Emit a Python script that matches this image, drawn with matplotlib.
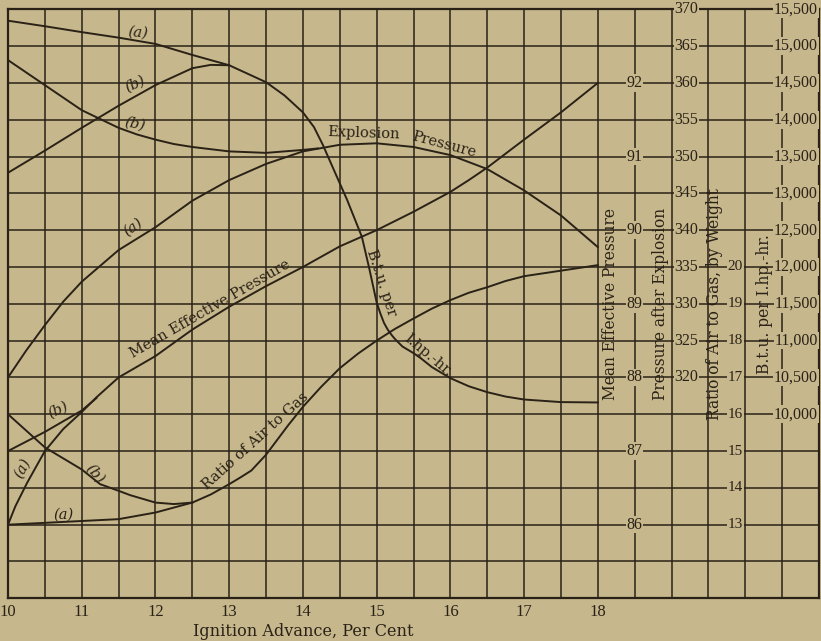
import numpy as np
import matplotlib.pyplot as plt

# ignition advance (per cent) and the readings of each curve
x_ticks = [10, 11, 12, 13, 14, 15, 16, 17, 18]
x_tick_labels = ['10', '11', '12', '13', '14', '15', '16', '17', '18']

# B.t.u. per I.hp.-hr.
btu_a_x = [10, 10.5, 11, 11.5, 12, 12.5, 13, 13.5, 13.75, 14, 14.15, 14.27, 14.45, 14.6, 14.8,
           14.9, 15.0, 15.05, 15.1, 15.15, 15.2, 15.25, 15.35, 15.4, 15.5, 15.6, 15.75, 16,
           16.25, 16.5, 16.75, 17, 17.5, 18]
btu_a = [15345, 15270, 15190, 15115, 15030, 14880, 14740, 14510, 14330, 14100, 13900, 13660,
         13250, 12910, 12410, 11980, 11520, 11370, 11240, 11150, 11080, 11020, 10920, 10890,
         10830, 10760, 10640, 10490, 10380, 10300, 10240, 10200, 10165, 10160]
btu_b_x = [10, 10.5, 11, 11.5, 12, 12.5, 12.75, 13.0]
btu_b = [13280, 13580, 13890, 14190, 14470, 14700, 14745, 14740]

# Pressure after explosion
exp_a_x = [10, 10.25, 10.5, 10.75, 11, 11.5, 12, 12.5, 13, 13.5, 14, 14.5, 15, 15.5, 16, 16.5,
           17, 17.5, 18]
exp_a = [320.0, 323.7, 327.1, 330.3, 333.0, 337.3, 340.4, 344.0, 346.8, 349.0, 350.7, 351.6,
         351.8, 351.3, 350.2, 348.3, 345.4, 342.0, 337.7]
exp_b_x = [10, 10.25, 10.5, 11, 11.5, 11.75, 12, 12.25, 12.5, 13, 13.5, 14, 14.2]
exp_b = [363.1, 361.4, 359.7, 356.3, 353.9, 353.0, 352.3, 351.7, 351.3, 350.7, 350.5, 350.9,
         351.1]

# Mean effective pressure
mep_a_x = [10, 10.1, 10.26, 10.5, 10.75, 11, 11.2, 11.5, 12, 12.5, 13, 13.5, 14, 14.5, 15, 15.5,
           16, 16.25, 16.5, 17, 17.5, 18]
mep_a = [86.0, 86.25, 86.57, 87.0, 87.3, 87.53, 87.73, 88.0, 88.29, 88.65, 88.96, 89.24, 89.5,
         89.78, 90.0, 90.25, 90.52, 90.68, 90.85, 91.23, 91.6, 92.0]
mep_b_x = [10, 10.5, 11, 11.2]
mep_b = [87.0, 87.26, 87.55, 87.72]

# Ratio of air to gas
ratio_a_x = [10, 10.5, 11, 11.5, 12, 12.5, 12.75, 13, 13.15, 13.3, 13.5, 13.8, 14, 14.25, 14.5,
             14.75, 15, 15.25, 15.5, 15.75, 16, 16.25, 16.5, 16.75, 17, 17.5, 18]
ratio_a = [13.0, 13.05, 13.1, 13.15, 13.33, 13.6, 13.82, 14.1, 14.28, 14.47, 14.9, 15.7, 16.2,
           16.75, 17.25, 17.65, 18.0, 18.32, 18.6, 18.87, 19.1, 19.3, 19.45, 19.62, 19.75, 19.9,
           20.05]
ratio_b_x = [10, 10.5, 11, 11.25, 11.5, 11.66, 12, 12.25, 12.5]
ratio_b = [16.0, 15.1, 14.5, 14.1, 13.92, 13.8, 13.6, 13.56, 13.6]

# right hand scales
mep_ticks = [86, 87, 88, 89, 90, 91, 92]
exp_ticks = [320, 325, 330, 335, 340, 345, 350, 355, 360, 365, 370]
ratio_ticks = [13, 14, 15, 16, 17, 18, 19, 20]
btu_ticks = [10000, 10500, 11000, 11500, 12000, 12500, 13000, 13500, 14000, 14500, 15000, 15500]

bg = '#c6b78c'
ink = '#2a2217'
serif = 'DejaVu Serif'
nums = 'Liberation Serif'

fig = plt.figure(figsize=(8.21, 6.41), dpi=100, facecolor=bg)
ax = fig.add_axes([8 / 821, 1 - 598.3 / 641, 811 / 821, 589 / 641])
ax.set_facecolor(bg)
ax.set_xlim(10, 21)
ax.set_ylim(85, 93)
ax.set_xticks(np.arange(10, 21.01, 0.5), minor=True)
ax.set_xticks(x_ticks)
ax.set_xticklabels(x_tick_labels, fontfamily=nums, fontsize=12, color=ink)
ax.set_yticks(np.arange(85, 93.01, 0.5), minor=True)
ax.set_yticks([])
ax.tick_params(which='both', length=0, pad=4)
ax.grid(which='both', color=ink, lw=1.1)
ax.set_axisbelow(True)
for s in ax.spines.values():
    s.set_color(ink)
    s.set_linewidth(1.6)

ax_p = ax.twinx()
ax_p.set_ylim(290, 370)
ax_r = ax.twinx()
ax_r.set_ylim(11, 27)
ax_b = ax.twinx()
ax_b.set_ylim(7500, 15500)
for a in (ax_p, ax_r, ax_b):
    a.axis('off')

lw = 1.4
ax_b.plot(btu_a_x, btu_a, color=ink, lw=lw)
ax_b.plot(btu_b_x, btu_b, color=ink, lw=lw)
ax_p.plot(exp_a_x, exp_a, color=ink, lw=lw)
ax_p.plot(exp_b_x, exp_b, color=ink, lw=lw)
ax.plot(mep_a_x, mep_a, color=ink, lw=lw)
ax.plot(mep_b_x, mep_b, color=ink, lw=lw)
ax_r.plot(ratio_a_x, ratio_a, color=ink, lw=lw)
ax_r.plot(ratio_b_x, ratio_b, color=ink, lw=lw)

# scale figures on the right
box = dict(fc=bg, ec='none', pad=0.6)
for v in mep_ticks:
    ax.text(18.5, v, str(v), ha='center', va='center', fontfamily=nums, fontsize=11.5,
            color=ink, bbox=box)
for v in exp_ticks:
    ax_p.text(19.04, v, str(v), ha='left', va='center', fontfamily=nums, fontsize=11.5,
              color=ink, bbox=box)
for v in ratio_ticks:
    ax_r.text(19.97, v, str(v), ha='right', va='center', fontfamily=nums, fontsize=11,
              color=ink, bbox=box)
for v in btu_ticks:
    ax_b.text(20.985, v, f'{v:,}', ha='right', va='center', fontfamily=nums, fontsize=11.5,
              color=ink, bbox=box)

tr = ax.get_xaxis_transform()
side = dict(rotation=90, ha='center', va='center', fontfamily=serif, fontsize=11.2, color=ink,
            transform=tr)
ax.text(18.17, 0.5, 'Mean Effective Pressure', **side)
ax.text(18.85, 0.5, 'Pressure after Explosion', **side)
ax.text(19.58, 0.5, 'Ratio of Air to Gas, by Weight', **side)
ax.text(20.26, 0.5, 'B.t.u. per I.hp.-hr.', **side)

ax.text(14.0, -0.056, 'Ignition Advance, Per Cent', ha='center', va='center',
        fontfamily=serif, fontsize=11.6, color=ink, transform=tr)

# curve names
lab = dict(ha='center', va='center', fontfamily=serif, fontsize=10.5, color=ink)
tag = dict(ha='center', va='center', fontfamily=serif, fontsize=10.5, color=ink, style='italic')
ax.text(11.76, 92.69, '(a)', rotation=-5, **tag)
ax.text(11.72, 91.99, '(b)', rotation=25, **tag)
ax.text(11.72, 91.44, '(b)', rotation=-12, **tag)
ax.text(11.70, 90.04, '(a)', rotation=35, **tag)
ax.text(14.82, 91.31, 'Explosion', rotation=-2, **lab)
ax.text(15.92, 91.16, 'Pressure', rotation=-15, **lab)
ax.text(12.74, 88.93, 'Mean Effective Pressure', rotation=30, **lab)
ax.text(10.68, 87.56, '(b)', rotation=25, **tag)
ax.text(10.19, 86.77, '(a)', rotation=62, **tag)
ax.text(11.18, 86.69, '(b)', rotation=-50, **tag)
ax.text(10.75, 86.13, '(a)', rotation=0, **tag)
ax.text(13.35, 87.13, 'Ratio of Air to Gas', rotation=42, **lab)
ax.text(15.07, 89.28, 'B.t.u. per', rotation=-72, **lab)
ax.text(15.70, 88.30, 'I.hp.-hr.', rotation=-40, **lab)

plt.savefig('out.png', dpi=100, facecolor=bg)
